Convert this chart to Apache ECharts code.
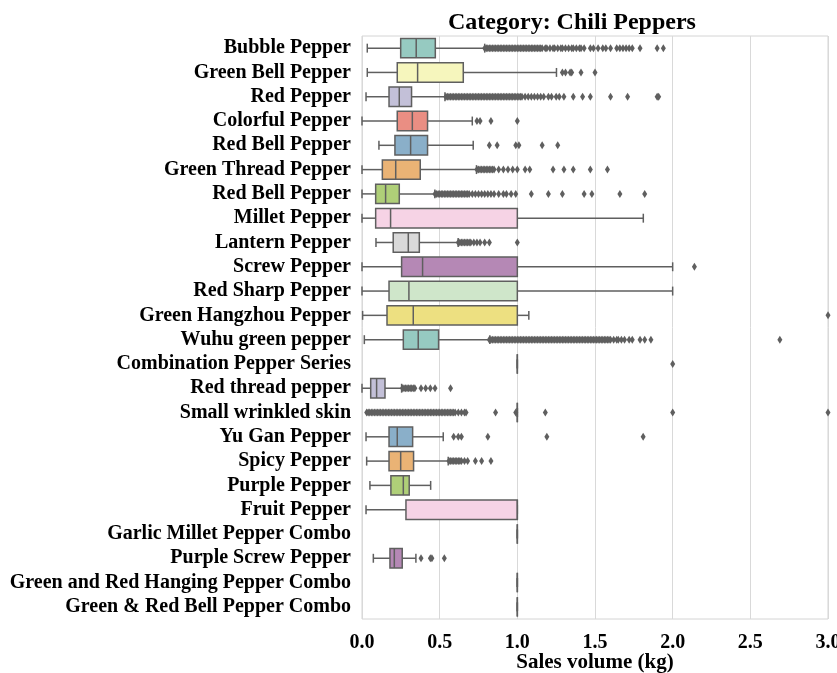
<!DOCTYPE html>
<html>
<head>
<meta charset="utf-8">
<script src="https://cdn.jsdelivr.net/npm/echarts@6/dist/echarts.min.js"></script>
<style>
  html, body { margin: 0; padding: 0; background: #fff; }
  #chart { width: 837px; height: 673px; }
</style>
</head>
<body>
<div id="chart"></div>
<script>
// Sales volume per transaction (kg) for chili pepper items
const categories = [
  'Bubble Pepper', 'Green Bell Pepper', 'Red Pepper', 'Colorful Pepper',
  'Red Bell Pepper', 'Green Thread Pepper', 'Red Bell Pepper', 'Millet Pepper',
  'Lantern Pepper', 'Screw Pepper', 'Red Sharp Pepper', 'Green Hangzhou Pepper',
  'Wuhu green pepper', 'Combination Pepper Series', 'Red thread pepper',
  'Small wrinkled skin', 'Yu Gan Pepper', 'Spicy Pepper', 'Purple Pepper',
  'Fruit Pepper', 'Garlic Millet Pepper Combo', 'Purple Screw Pepper',
  'Green and Red Hanging Pepper Combo', 'Green & Red Bell Pepper Combo'
];

// Five-number summaries (lower whisker, Q1, median, Q3, upper whisker)
const whiskerLow = [0.034, 0.034, 0.026, 0.0, 0.109, 0.0, 0.0, 0.0, 0.09, 0.0, 0.0, 0.004,
                    0.015, 1.0, 0.0, 1.0, 0.026, 0.03, 0.051, 0.026, 1.0, 0.073, 1.0, 1.0];
const quartile1  = [0.249, 0.227, 0.174, 0.227, 0.212, 0.131, 0.088, 0.088, 0.201, 0.255, 0.174, 0.161,
                    0.266, 1.0, 0.056, 1.0, 0.174, 0.174, 0.186, 0.283, 1.0, 0.18, 1.0, 1.0];
const medians    = [0.349, 0.358, 0.24, 0.324, 0.313, 0.217, 0.152, 0.184, 0.298, 0.39, 0.302, 0.33,
                    0.362, 1.0, 0.094, 1.0, 0.227, 0.249, 0.266, 1.0, 1.0, 0.208, 1.0, 1.0];
const quartile3  = [0.472, 0.652, 0.319, 0.422, 0.422, 0.375, 0.24, 1.0, 0.369, 1.0, 1.0, 1.0,
                    0.493, 1.0, 0.148, 1.0, 0.326, 0.332, 0.304, 1.0, 1.0, 0.259, 1.0, 1.0];
const whiskerHigh = [0.79, 1.252, 0.534, 0.71, 0.716, 0.737, 0.469, 1.811, 0.619, 2.0, 2.0, 1.074,
                     0.823, 1.0, 0.255, 1.0, 0.523, 0.555, 0.442, 1.0, 1.0, 0.347, 1.0, 1.0];

// Outlying observations, one list per item
const fliers = [
  [0.79, 0.80, 0.81, 0.82, 0.83, 0.84, 0.85, 0.86, 0.87, 0.88, 0.89, 0.90, 0.91, 0.92, 0.93,
   0.94, 0.95, 0.96, 0.97, 0.98, 0.99, 1.00, 1.01, 1.02, 1.03, 1.04, 1.05, 1.06, 1.07, 1.08,
   1.09, 1.10, 1.11, 1.12, 1.13, 1.14, 1.15, 1.16, 1.18, 1.19, 1.21, 1.23, 1.24, 1.26, 1.28,
   1.29, 1.31, 1.33, 1.35, 1.36, 1.38, 1.40, 1.41, 1.43, 1.47, 1.49, 1.52, 1.55, 1.57, 1.60,
   1.64, 1.66, 1.68, 1.70, 1.72, 1.74, 1.79, 1.90, 1.94],
  [1.29, 1.31, 1.34, 1.35, 1.41, 1.50],
  [0.54, 0.55, 0.56, 0.57, 0.58, 0.59, 0.60, 0.61, 0.62, 0.63, 0.64, 0.65, 0.66, 0.67, 0.68,
   0.69, 0.70, 0.71, 0.72, 0.73, 0.74, 0.75, 0.76, 0.77, 0.78, 0.79, 0.80, 0.81, 0.82, 0.83,
   0.84, 0.85, 0.86, 0.87, 0.88, 0.89, 0.90, 0.91, 0.92, 0.93, 0.94, 0.95, 0.96, 0.97, 0.98,
   0.99, 1.00, 1.01, 1.02, 1.03, 1.05, 1.07, 1.09, 1.11, 1.13, 1.15, 1.17, 1.20, 1.22, 1.25,
   1.27, 1.30, 1.36, 1.42, 1.47, 1.60, 1.71, 1.90, 1.91],
  [0.74, 0.76, 0.83, 1.00],
  [0.82, 0.87, 0.99, 1.01, 1.16, 1.26],
  [0.74, 0.75, 0.76, 0.77, 0.78, 0.79, 0.80, 0.81, 0.82, 0.83, 0.84, 0.85, 0.88, 0.91, 0.94,
   0.97, 1.00, 1.05, 1.08, 1.23, 1.30, 1.36, 1.47, 1.58],
  [0.47, 0.48, 0.49, 0.50, 0.51, 0.52, 0.53, 0.54, 0.55, 0.56, 0.57, 0.58, 0.59, 0.60, 0.61,
   0.62, 0.63, 0.64, 0.65, 0.66, 0.67, 0.68, 0.69, 0.71, 0.73, 0.75, 0.77, 0.79, 0.81, 0.83,
   0.85, 0.88, 0.91, 0.93, 0.96, 0.99, 1.09, 1.20, 1.29, 1.43, 1.48, 1.66, 1.82],
  [],
  [0.62, 0.63, 0.64, 0.65, 0.66, 0.67, 0.68, 0.69, 0.70, 0.72, 0.74, 0.76, 0.79, 0.82, 1.00],
  [2.14],
  [],
  [3.00],
  [0.82, 0.83, 0.84, 0.85, 0.86, 0.87, 0.88, 0.89, 0.90, 0.91, 0.92, 0.93, 0.94, 0.95, 0.96,
   0.97, 0.98, 0.99, 1.00, 1.01, 1.02, 1.03, 1.04, 1.05, 1.06, 1.07, 1.08, 1.09, 1.10, 1.11,
   1.12, 1.13, 1.14, 1.15, 1.16, 1.17, 1.18, 1.19, 1.20, 1.21, 1.22, 1.23, 1.24, 1.25, 1.26,
   1.27, 1.28, 1.29, 1.30, 1.31, 1.32, 1.33, 1.34, 1.35, 1.36, 1.37, 1.38, 1.39, 1.40, 1.41,
   1.42, 1.43, 1.44, 1.45, 1.46, 1.47, 1.48, 1.49, 1.50, 1.51, 1.52, 1.53, 1.54, 1.55, 1.56,
   1.57, 1.58, 1.59, 1.60, 1.62, 1.64, 1.65, 1.67, 1.69, 1.72, 1.74, 1.79, 1.82, 1.86, 2.69],
  [2.00],
  [0.26, 0.27, 0.28, 0.29, 0.30, 0.31, 0.32, 0.33, 0.34, 0.38, 0.41, 0.44, 0.47, 0.57],
  [0.03, 0.04, 0.05, 0.06, 0.07, 0.08, 0.09, 0.10, 0.11, 0.12, 0.13, 0.14, 0.15, 0.16, 0.17,
   0.18, 0.19, 0.20, 0.21, 0.22, 0.23, 0.24, 0.25, 0.26, 0.27, 0.28, 0.29, 0.30, 0.31, 0.32,
   0.33, 0.34, 0.35, 0.36, 0.37, 0.38, 0.39, 0.40, 0.41, 0.42, 0.43, 0.44, 0.45, 0.46, 0.47,
   0.48, 0.49, 0.50, 0.51, 0.52, 0.53, 0.54, 0.55, 0.56, 0.57, 0.58, 0.59, 0.60, 0.62, 0.64,
   0.66, 0.67, 0.86, 0.99, 1.18, 2.00, 3.00],
  [0.59, 0.62, 0.64, 0.81, 1.19, 1.81],
  [0.56, 0.57, 0.58, 0.59, 0.60, 0.61, 0.62, 0.63, 0.64, 0.66, 0.68, 0.73, 0.77, 0.83],
  [],
  [],
  [],
  [0.38, 0.44, 0.45, 0.53],
  [],
  []
];

const xTicks = [0, 0.5, 1.0, 1.5, 2.0, 2.5, 3.0];

// Muted Set3-style palette, cycled over the items
const palette = ['#96cac1', '#f6f6bd', '#c3c0d8', '#ea8e83', '#8aafc9', '#eab375',
                 '#afcf78', '#f6d3e5', '#d9d9d9', '#b588b5', '#cfe6ca', '#ede081'];
const edge = '#5f5f5f';
const serif = "'Liberation Serif', 'Times New Roman', serif";

const boxData = categories.map((c, i) =>
  [i, whiskerLow[i], quartile1[i], medians[i], quartile3[i], whiskerHigh[i]]);

const flierData = [];
fliers.forEach((list, i) => list.forEach(v => flierData.push([v, i])));

function renderBox(params, api) {
  const cat = api.value(0);
  const lo = api.coord([api.value(1), cat]);
  const q1 = api.coord([api.value(2), cat]);
  const md = api.coord([api.value(3), cat]);
  const q3 = api.coord([api.value(4), cat]);
  const hi = api.coord([api.value(5), cat]);
  const band = api.size([0, 1])[1];
  const h = band * 0.8;
  const cap = h * 0.46;
  const y = lo[1];
  const ln = { stroke: edge, lineWidth: 1.5 };
  return {
    type: 'group',
    children: [
      { type: 'line', shape: { x1: lo[0], y1: y, x2: q1[0], y2: y }, style: ln },
      { type: 'line', shape: { x1: q3[0], y1: y, x2: hi[0], y2: y }, style: ln },
      { type: 'line', shape: { x1: lo[0], y1: y - cap / 2, x2: lo[0], y2: y + cap / 2 }, style: ln },
      { type: 'line', shape: { x1: hi[0], y1: y - cap / 2, x2: hi[0], y2: y + cap / 2 }, style: ln },
      { type: 'rect', shape: { x: q1[0], y: y - h / 2, width: q3[0] - q1[0], height: h },
        style: { fill: palette[cat % palette.length], stroke: edge, lineWidth: 1.5 } },
      { type: 'line', shape: { x1: md[0], y1: y - h / 2, x2: md[0], y2: y + h / 2 }, style: ln }
    ]
  };
}

const chart = echarts.init(document.getElementById('chart'), null, { renderer: 'canvas' });
chart.setOption({
  animation: false,
  backgroundColor: '#fff',
  title: {
    text: 'Category: Chili Peppers',
    left: 443,
    top: 6,
    textStyle: { fontFamily: serif, fontWeight: 'bold', fontSize: 24, color: '#000' }
  },
  grid: {
    left: 362, top: 36, right: 9, bottom: 54,
    outerBoundsMode: 'none',
    containLabel: false,
    show: true, borderColor: '#d4d4d4', borderWidth: 1
  },
  xAxis: {
    type: 'value',
    min: xTicks[0],
    max: xTicks[xTicks.length - 1],
    interval: 0.5,
    name: 'Sales volume (kg)',
    nameLocation: 'middle',
    nameGap: 33,
    nameMoveOverlap: false,
    nameTextStyle: { fontFamily: serif, fontWeight: 'bold', fontSize: 21, color: '#000' },
    axisLine: { show: false },
    axisTick: { show: false },
    axisLabel: {
      margin: 14,
      fontFamily: serif, fontWeight: 'bold', fontSize: 20, color: '#000',
      formatter: v => v.toFixed(1)
    },
    splitLine: { show: true, lineStyle: { color: '#d9d9d9', width: 1 } }
  },
  yAxis: {
    type: 'category',
    inverse: true,
    data: categories,
    axisLine: { show: false },
    axisTick: { show: false },
    splitLine: { show: false },
    axisLabel: {
      interval: 0,
      margin: 11,
      fontFamily: serif, fontWeight: 'bold', fontSize: 20, color: '#000'
    }
  },
  series: [
    {
      type: 'custom',
      renderItem: renderBox,
      data: boxData,
      encode: { x: [1, 2, 3, 4, 5], y: 0 },
      z: 2
    },
    {
      type: 'scatter',
      data: flierData,
      symbol: 'diamond',
      symbolSize: [5, 8],
      itemStyle: { color: edge, opacity: 1 },
      z: 3
    }
  ]
});
</script>
</body>
</html>
